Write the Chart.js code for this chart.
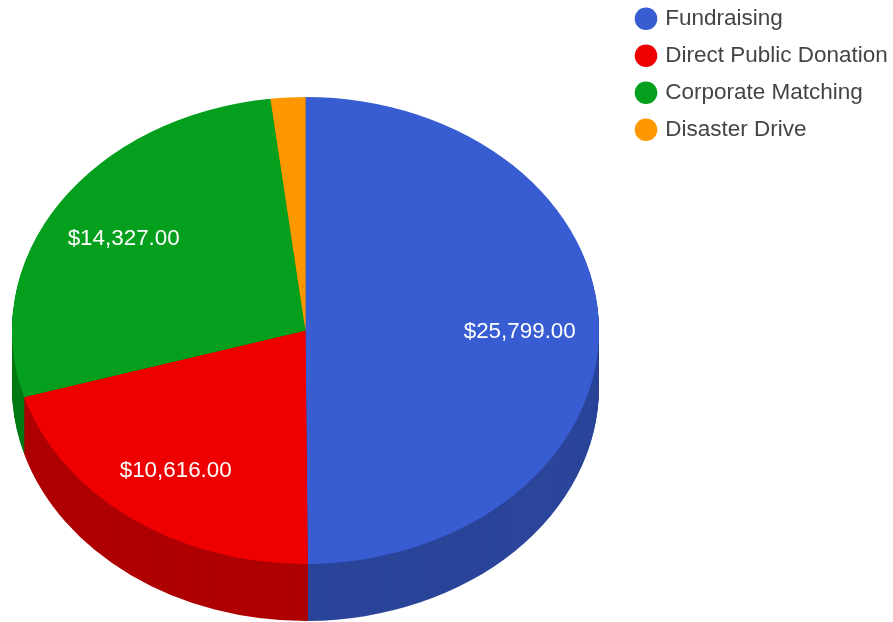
<!DOCTYPE html>
<html>
<head>
<meta charset="utf-8">
<style>
  html, body { margin: 0; background: #fff; }
  canvas { display: block; }
</style>
<script src="https://cdn.jsdelivr.net/npm/chart.js@4"></script>
</head>
<body>
<canvas id="chart" width="893" height="622"></canvas>
<script>
'use strict';

const categories = ['Fundraising', 'Direct Public Donation', 'Corporate Matching', 'Disaster Drive'];
const amounts = [25799, 10616, 14327, 985];
const colors = ['#385cd1', '#ee0000', '#04a01d', '#ff9800'];
const sideColors = ['#2a4599', '#ae0000', '#037a15', '#bf7200'];
const labelled = [true, true, true, false];

// pie is drawn as a circle, then flattened onto this ellipse
const CX = 305.5, CY = 330.5, RX = 293.5, RY = 233.5, DEPTH = 57;

const money = v => '$' + v.toLocaleString('en-US', { minimumFractionDigits: 2, maximumFractionDigits: 2 });

function flatten(ctx, arc, dy) {
  ctx.translate(CX, CY + dy);
  ctx.scale(1, RY / RX);
  ctx.translate(-arc.x, -arc.y);
}

const pie3d = {
  id: 'pie3d',
  afterLayout(chart) {
    chart.legend.left = 623.5;
    chart.legend.top = -7;
  },
  beforeDatasetsDraw(chart) {
    const ctx = chart.ctx;
    const arcs = chart.getDatasetMeta(0).data;
    for (let d = DEPTH; d > 0; d--) {
      arcs.forEach((arc, i) => {
        const opts = arc.options;
        arc.options = { ...opts, backgroundColor: sideColors[i] };
        ctx.save();
        flatten(ctx, arc, d);
        arc.draw(ctx);
        ctx.restore();
        arc.options = opts;
      });
    }
    ctx.save();
    flatten(ctx, arcs[0], 0);
  },
  afterDatasetsDraw(chart) {
    const ctx = chart.ctx;
    ctx.restore();
    ctx.save();
    ctx.fillStyle = '#fff';
    ctx.font = '22.4px "Liberation Sans", Arial, sans-serif';
    ctx.textAlign = 'center';
    ctx.textBaseline = 'middle';
    chart.getDatasetMeta(0).data.forEach((arc, i) => {
      if (!labelled[i]) return;
      const mid = (arc.startAngle + arc.endAngle) / 2;
      const r = arc.outerRadius * 0.735;
      ctx.fillText(money(amounts[i]), CX - 1.5 + Math.cos(mid) * r, CY + 2.5 + Math.sin(mid) * r * RY / RX);
    });
    ctx.restore();
  },
};

new Chart(document.getElementById('chart'), {
  type: 'pie',
  data: {
    labels: categories,
    datasets: [{
      data: amounts,
      backgroundColor: colors,
      borderWidth: 0,
      radius: RX,
    }],
  },
  options: {
    responsive: false,
    animation: false,
    plugins: {
      tooltip: { enabled: false },
      legend: {
        position: 'right',
        align: 'start',
        labels: {
          usePointStyle: true,
          boxWidth: 16,
          boxHeight: 16,
          padding: 14.5,
          color: '#444',
          font: { family: '"Liberation Sans", Arial, sans-serif', size: 22.5 },
        },
      },
    },
  },
  plugins: [pie3d],
});
</script>
</body>
</html>
